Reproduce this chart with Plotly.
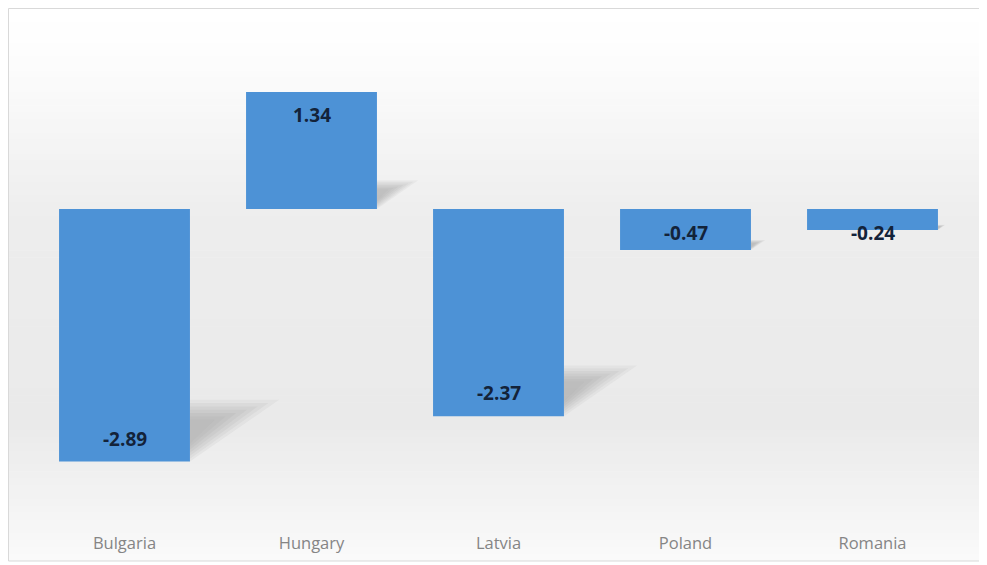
import plotly.graph_objects as go

countries = ["Bulgaria", "Hungary", "Latvia", "Poland", "Romania"]
values = [-2.89, 1.34, -2.37, -0.47, -0.24]
labels = ["-2.89", "1.34", "-2.37", "-0.47", "-0.24"]

# page has an 8px body margin, so the figure is 979x557 placed at (8, 8)
W, H = 979, 557
ML, MR, MT, MB = 23, 21, 22, 34
plot_w = W - ML - MR
plot_h = H - MT - MB
y_lo, y_hi = -3.684, 2.048
px_per_unit = plot_h / (y_hi - y_lo)

x_idx = list(range(len(countries)))
BAR_W = 0.70

fig = go.Figure()
fig.add_trace(go.Bar(
    x=x_idx, y=values, width=BAR_W,
    marker=dict(color="#4d92d6", line=dict(width=0)),
    hoverinfo="skip",
))

shapes = []


def px_to_paper_y(py):
    return (H - MB - py) / plot_h


def px_to_paper_x(px):
    return (px - ML) / plot_w


top_px, bot_px = 0.5, 553
left_px, right_px = 0.5, 977
stops = [(0.0, 255), (0.08, 253), (0.38, 237), (0.75, 234), (1.0, 250)]


def gray_at(t):
    for (t0, g0), (t1, g1) in zip(stops[:-1], stops[1:]):
        if t0 <= t <= t1:
            return g0 + (g1 - g0) * (t - t0) / (t1 - t0)
    return stops[-1][1]


N = 80
for i in range(N):
    y0 = top_px + (bot_px - top_px) * i / N
    y1 = top_px + (bot_px - top_px) * (i + 1) / N + 0.6
    g = int(round(gray_at((i + 0.5) / N)))
    shapes.append(dict(
        type="rect", xref="paper", yref="paper", layer="below",
        x0=px_to_paper_x(left_px), x1=px_to_paper_x(right_px),
        y0=px_to_paper_y(y0), y1=px_to_paper_y(min(y1, bot_px)),
        fillcolor=f"rgb({g},{g},{g})", line=dict(width=0),
    ))

# soft cast shadows at the bottom-right of every bar
layers = [(1.0, 0.05), (0.88, 0.05), (0.76, 0.05), (0.64, 0.05),
          (0.52, 0.05), (0.40, 0.04), (0.28, 0.03)]
for xi, v in zip(x_idx, values):
    yb = min(v, 0)
    xr = xi + BAR_W / 2
    h = 0.245 * abs(v)
    w = 0.165 * abs(v)
    for s, op in layers:
        ytop = yb + h * (0.55 + 0.45 * s)
        path = f"M {xr},{yb + h * (1 - s) * 0.4} L {xr},{ytop} L {xr + w * s},{ytop} Z"
        shapes.append(dict(
            type="path", xref="x", yref="y", layer="below", path=path,
            fillcolor=f"rgba(80,80,80,{op})", line=dict(width=0),
        ))

# outer border
shapes.append(dict(
    type="rect", xref="paper", yref="paper", layer="above",
    x0=px_to_paper_x(left_px), x1=px_to_paper_x(right_px),
    y0=px_to_paper_y(top_px), y1=px_to_paper_y(bot_px),
    line=dict(color="#d9d9d9", width=1), fillcolor="rgba(0,0,0,0)",
))

annotations = []
for xi, v, lab in zip(x_idx, values, labels):
    h_px = abs(v) * px_per_unit
    off = min(23, h_px - 24)
    annotations.append(dict(
        x=xi, y=v, xref="x", yref="y", text=lab, showarrow=False,
        yshift=off if v < 0 else -off,
        font=dict(family="Open Sans", size=19, color="#13233a", weight="bold"),
    ))

fig.update_layout(
    width=W, height=H,
    margin=dict(l=ML, r=MR, t=MT, b=MB),
    paper_bgcolor="white",
    plot_bgcolor="rgba(0,0,0,0)",
    showlegend=False,
    shapes=shapes,
    annotations=annotations,
    xaxis=dict(
        range=[-0.5, len(countries) - 0.5],
        tickvals=x_idx, ticktext=countries,
        showgrid=False, zeroline=False, showline=False, ticks="",
        tickfont=dict(family="Open Sans", size=16.5, color="#858585"),
    ),
    yaxis=dict(
        range=[y_lo, y_hi], visible=False, showgrid=False, zeroline=False,
    ),
)

fig.write_html("out.html")
